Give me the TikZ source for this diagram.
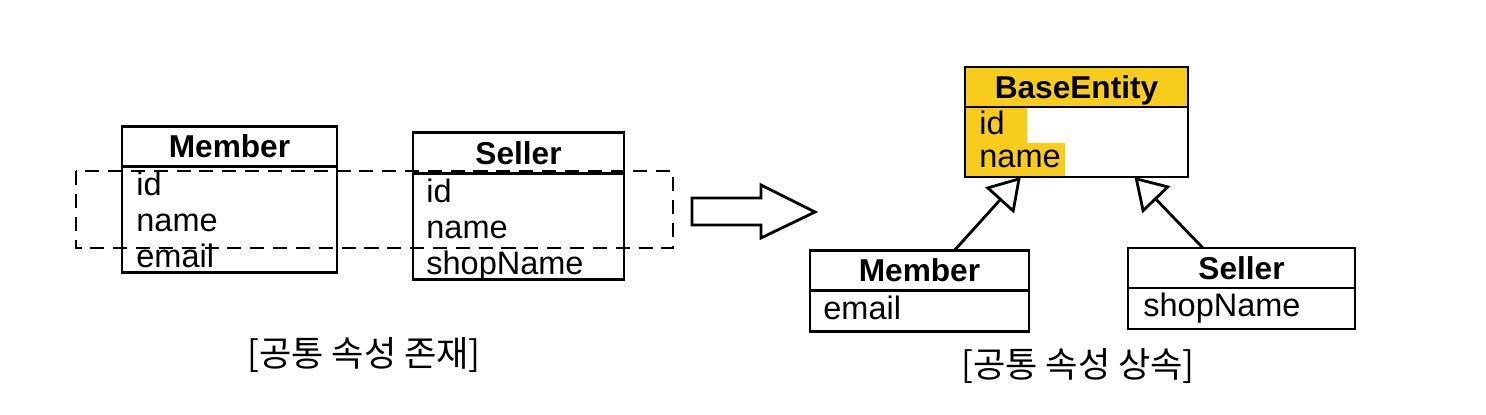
\documentclass[tikz,border=0pt]{standalone}
\usepackage{fontspec}
\setmainfont{Liberation Sans}
\newfontfamily\krfont{Noto Sans CJK KR}
\usetikzlibrary{positioning,calc,arrows.meta}

\definecolor{hl}{RGB}{248,204,27}

\tikzset{
  head/.style={draw, line width=1.6pt, inner sep=0pt, outer sep=0pt, minimum height=0.81cm,
    text height=13pt, text depth=0pt, font=\bfseries\fontsize{18}{21}\selectfont},
  body/.style={draw, line width=1.6pt, inner sep=0pt, outer sep=0pt},
  attr/.style={anchor=base west, inner sep=0pt, font=\fontsize{18.5}{22}\selectfont},
  caption/.style={inner sep=0pt, font=\krfont\fontsize{20}{24}\selectfont},
  inherit/.style={line width=1.6pt, -{Triangle[open, length=18pt, width=22pt]}}
}

\begin{document}
\begin{tikzpicture}[x=0.02cm, y=-0.02cm]
    \useasboundingbox (0,0) rectangle (1486,415);

    % highlighter on BaseEntity
    \fill[hl] (965,107) -- (1027,107) -- (1027,143) -- (1065,143) --
        (1065,177) -- (965,177) -- cycle;

    % left: Member and Seller with common attributes
    \node[head, minimum width=4.3cm] (mem) at (229.5,146.5) {Member};
    \node[body, minimum width=4.3cm, minimum height=2.12cm, below=0pt of mem] (memB) {};
    \foreach \t [count=\i] in {id,name,email}
        \node[attr] (memA\i) at ($(memB.north west)+(14,28.5+36*\i-36)$) {\t};

    \node[head, minimum width=4.22cm] (sel) at (518.5,153) {Seller};
    \node[body, minimum width=4.22cm, minimum height=2.12cm, below=0pt of sel] (selB) {};
    \foreach \t [count=\i] in {id,name,shopName}
        \node[attr] (selA\i) at ($(selB.north west)+(13,29+36*\i-36)$) {\t};

    \draw[line width=1.2pt, dash pattern=on 8pt off 5pt] (76,171) rectangle (673,248);

    % big hollow arrow
    \draw[line width=1.6pt, line join=miter] (692,198) -- (761,198) -- (761,185) --
        (815,212) -- (761,238) -- (761,225) -- (692,225) -- cycle;

    % right: BaseEntity with subclasses
    \node[head, fill=hl, minimum width=4.46cm, minimum height=0.8cm] (base) at (1076.5,87) {BaseEntity};
    \node[body, minimum width=4.46cm, minimum height=1.4cm, below=0pt of base] (baseB) {};
    \node[attr] (baseA1) at ($(baseB.north west)+(14,28)$) {id};
    \node[attr] (baseA2) at ($(baseB.north west)+(14,61)$) {name};

    \node[head, minimum width=4.38cm] (mem2) at (919.5,270.5) {Member};
    \node[body, minimum width=4.38cm, minimum height=0.82cm, below=0pt of mem2] (mem2B) {};
    \node[attr] (mem2A) at ($(mem2B.north west)+(13,29)$) {email};

    \node[head, minimum width=4.54cm, minimum height=0.8cm] (sel2) at (1241.5,268) {Seller};
    \node[body, minimum width=4.54cm, minimum height=0.82cm, below=0pt of sel2] (sel2B) {};
    \node[attr] (sel2A) at ($(sel2B.north west)+(15,29)$) {shopName};

    \draw[inherit] ($(mem2.north west)!0.66!(mem2.north east)$) --
        ($(baseB.south west)!0.25!(baseB.south east)$);
    \draw[inherit] ($(sel2.north west)!0.33!(sel2.north east)$) --
        ($(baseB.south west)!0.76!(baseB.south east)$);

    % captions
    \node[caption] (cap1) at (364,355) {[공통 속성 존재]};
    \node[caption] (cap2) at (1078,366) {[공통 속성 상속]};
\end{tikzpicture}
\end{document}
